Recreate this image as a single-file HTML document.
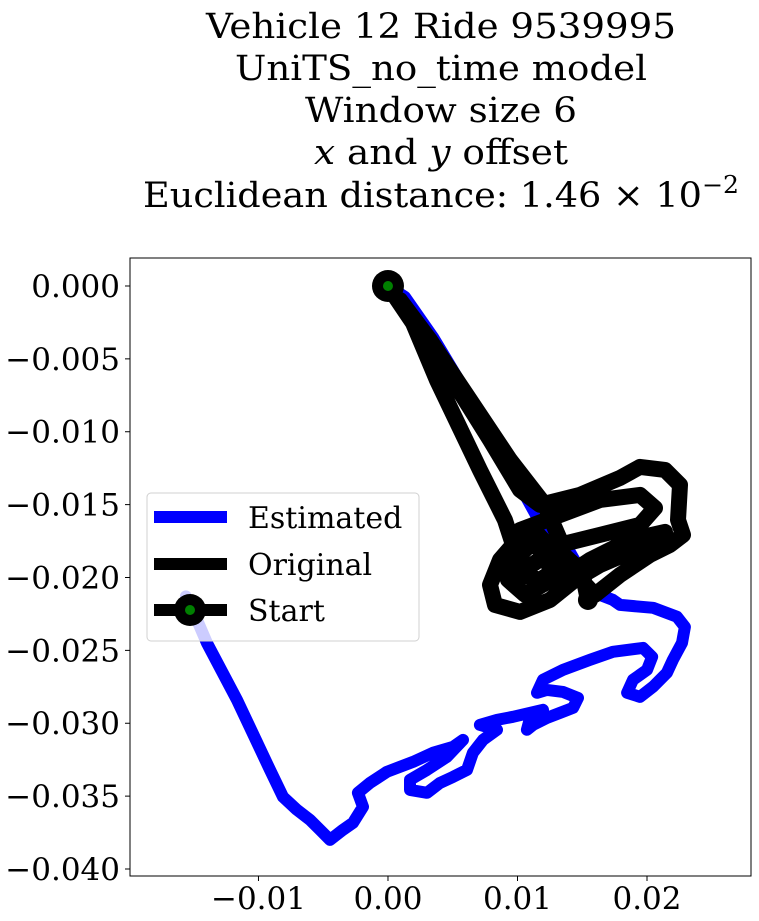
<!DOCTYPE html>
<html><head><meta charset="utf-8"><style>
html,body{margin:0;padding:0;background:#fff;}
svg{display:block;font-family:"DejaVu Serif","Liberation Serif",serif;}
</style></head><body>
<svg id="chart" width="759" height="921" viewBox="0 0 759 921">
<g font-size="35" text-anchor="middle" fill="#000">
<text x="441" y="38" textLength="470" lengthAdjust="spacingAndGlyphs">Vehicle 12 Ride 9539995</text>
<text x="441" y="80" textLength="412" lengthAdjust="spacingAndGlyphs">UniTS_no_time model</text>
<text x="441" y="122" textLength="272" lengthAdjust="spacingAndGlyphs">Window size 6</text>
<text x="441" y="164" textLength="254" lengthAdjust="spacingAndGlyphs"><tspan font-style="italic">x</tspan> and <tspan font-style="italic">y</tspan> offset</text>
<text x="441" y="207" textLength="596" lengthAdjust="spacingAndGlyphs">Euclidean distance: 1.46 × 10<tspan dy="-14" font-size="24">−2</tspan></text>
</g>
<g id="plot"></g>
</svg>
<script>
const xTicks=[-0.01,0.00,0.01,0.02];
const xTickLabels=["−0.01","0.00","0.01","0.02"];
const yTicks=[0,-0.005,-0.01,-0.015,-0.02,-0.025,-0.03,-0.035,-0.04];
const yTickLabels=["0.000","−0.005","−0.010","−0.015","−0.020","−0.025","−0.030","−0.035","−0.040"];
// values in units of 1e-3
const estX=[0,1.31,3.47,8.11,11.51,13.82,14.83,15.37,17.37,17.92,20.46,22.32,22.93,22.7,22.0,21.54,20.46,19.46,18.46,18.92,20.0,20.39,19.69,17.37,15.6,13.51,11.97,11.51,12.28,13.51,14.67,14.29,13.28,12.28,11.2,10.73,10.97,11.97,9.65,8.42,7.1,8.42,7.34,6.56,6.1,5.02,4.02,3.01,1.7,1.7,3.01,4.56,5.79,5.02,3.47,1.93,-0.08,-1.39,-2.32,-1.93,-2.7,-3.47,-4.48,-5.25,-6.02,-7.03,-8.11,-9.11,-11.66,-13.98,-14.75,-15.6];
const estY=[0,-0.75,-3.5,-10.36,-15.84,-17.9,-19.48,-20.85,-21.54,-21.88,-22.08,-22.7,-23.39,-24.49,-25.65,-26.54,-27.5,-28.19,-27.91,-27.02,-26.34,-25.45,-24.83,-25.1,-25.65,-26.34,-27.02,-27.91,-27.71,-27.85,-28.26,-28.94,-29.29,-29.63,-30.11,-30.45,-29.63,-29.08,-29.56,-29.77,-30.11,-30.45,-31.14,-32.03,-33.2,-33.68,-34.09,-34.77,-34.57,-33.88,-33.2,-32.3,-31.14,-31.62,-32.03,-32.65,-33.33,-34.09,-34.77,-35.73,-36.83,-37.31,-38.0,-37.31,-36.63,-35.94,-35.05,-33.2,-28.4,-24.49,-22.91,-21.3];
const origX=[0,1.93,3.78,7.1,9.03,9.65,8.65,7.88,8.26,10.19,12.51,14.44,16.37,19.46,21.39,18.69,15.6,13.28,12.12,13.28,16.37,19.46,20.62,19.46,16.37,13.28,10.19,9.42,10.19,11.74,12.9,12.12,10.97,9.81,9.27,10.58,13.28,13.28,12.12,9.42,6.33,3.24,0.93,4.02,7.88,10.19,11.74,14.83,17.92,19.46,21.39,22.55,22.39,22.78,21.78,20.23,17.92,15.98,11.0,9.5,10.5,13.0,15.0,15.44];
const origY=[0,-2.54,-6.45,-12.62,-16.05,-17.76,-18.79,-20.51,-21.88,-22.36,-21.54,-20.16,-19.14,-17.97,-16.87,-17.42,-18.79,-20.16,-18.79,-17.76,-17.08,-16.39,-15.23,-14.33,-14.68,-15.71,-16.74,-18.45,-19.82,-20.16,-19.48,-18.11,-17.76,-18.79,-20.16,-21.19,-19.82,-17.42,-15.02,-11.93,-7.82,-3.7,-0.96,-5.08,-10.56,-13.99,-15.02,-14.33,-13.17,-12.41,-12.62,-13.65,-16.05,-17.08,-17.76,-18.45,-19.82,-21.19,-16.5,-18.0,-19.5,-18.0,-19.6,-21.54];
const legendLabels=["Estimated","Original","Start"];

const L=130,R=751,T=258,B=876;
const xMin=-0.01992,xMax=0.02803,yMin=-0.04048,yMax=0.00192;
const sx=v=>L+(v-xMin)/(xMax-xMin)*(R-L);
const sy=v=>B-(v-yMin)/(yMax-yMin)*(B-T);
const NS="http://www.w3.org/2000/svg";
const plot=document.getElementById('plot');
function mk(tag,attrs,parent){const e=document.createElementNS(NS,tag);for(const k in attrs)e.setAttribute(k,attrs[k]);(parent||plot).appendChild(e);return e;}

const frame=mk('rect',{x:L,y:T,width:R-L,height:B-T,fill:'none',stroke:'#000','stroke-width':1});



xTicks.forEach((t,i)=>{
  const g=mk('g',{});
  
  
  mk('line',{x1:sx(t),x2:sx(t),y1:B,y2:B+5,stroke:'#000'},g);
  const tx=mk('text',{x:sx(t),y:B+33,'font-size':31,'text-anchor':'middle'},g);
  tx.textContent=xTickLabels[i];
});
yTicks.forEach((t,i)=>{
  const g=mk('g',{});
  
  
  mk('line',{x1:L-5,x2:L,y1:sy(t),y2:sy(t),stroke:'#000'},g);
  const tx=mk('text',{x:L-10,y:sy(t)+11,'font-size':31,'text-anchor':'end'},g);
  tx.textContent=yTickLabels[i];
});

function pathD(xs,ys){return xs.map((v,i)=>(i?'L':'M')+sx(v/1000).toFixed(1)+','+sy(ys[i]/1000).toFixed(1)).join(' ');}
const est=mk('path',{d:pathD(estX,estY),fill:'none',stroke:'#0000ff','stroke-width':12,'stroke-linejoin':'round','stroke-linecap':'round'});


const orig=mk('path',{d:pathD(origX,origY),fill:'none',stroke:'#000','stroke-width':16,'stroke-linejoin':'round','stroke-linecap':'round'});


const endDot=mk('circle',{cx:sx(origX[origX.length-1]/1000),cy:sy(origY[origY.length-1]/1000),r:10,fill:'#000'});


const st=mk('g',{});


mk('circle',{cx:sx(0),cy:sy(0),r:16,fill:'#000'},st);
mk('circle',{cx:sx(0),cy:sy(0),r:5,fill:'#008000'},st);

const lg=mk('g',{});


mk('rect',{x:147,y:493,width:272,height:148,rx:4,fill:'#fff','fill-opacity':0.8,stroke:'#d0d0d0'},lg);
const ly=[517,564,610];
const cols=['#0000ff','#000','#000'];
legendLabels.forEach((lab,i)=>{
  const e=mk('g',{},lg);
  
  
  mk('line',{x1:154,x2:227,y1:ly[i],y2:ly[i],stroke:cols[i],'stroke-width':12},e);
  if(i===2){mk('circle',{cx:190,cy:ly[i],r:16,fill:'#000'},e);mk('circle',{cx:190,cy:ly[i],r:5,fill:'#008000'},e);}
  const t=mk('text',{x:248,y:ly[i]+11,'font-size':30},e);
  t.textContent=lab;
});
</script>
</body></html>
